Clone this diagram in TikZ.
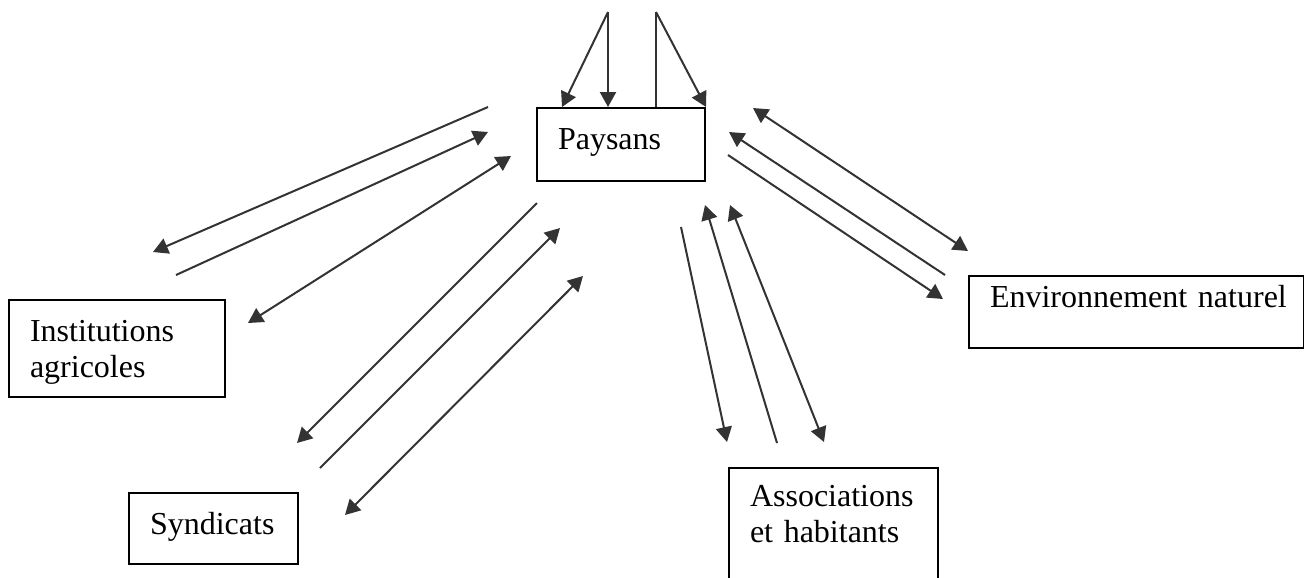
\documentclass[tikz,border=0pt]{standalone}
\usepackage{fontspec}
\setmainfont{Liberation Serif}
\usetikzlibrary{arrows.meta}

\newcommand{\pxu}{0.375pt}
\tikzset{
  box/.style={draw, line width=0.75pt, anchor=north west, align=left,
    inner xsep=21*\pxu, inner ysep=0pt, font=\fontsize{12}{13.8}\selectfont},
  link/.style={draw=black!80, line width=0.75pt},
}

\begin{document}
\begin{tikzpicture}[x=0.375pt, y=-0.375pt, >={Triangle[length=5.6pt,width=6pt]}]
\useasboundingbox (0,0) rectangle (1304,577);

% boxes
\node[box, text width=126*\pxu, text height=41*\pxu, text depth=32*\pxu] (paysans) at (536,107) {Paysans};
\node[box, text width=174*\pxu, text height=41*\pxu, text depth=56*\pxu] (institutions) at (8,299) {Institutions\\agricoles};
\node[box, text width=127*\pxu, text height=41*\pxu, text depth=30*\pxu] (syndicats) at (128,492) {Syndicats};
\node[box, text width=167*\pxu, text height=38*\pxu, text depth=100*\pxu] (associations) at (728,467) {Associations\\et habitants};
\node[box, text width=293*\pxu, text height=31*\pxu, text depth=41*\pxu] (environnement) at (968,275) {\mbox{Environnement naturel}};

% ends of the arrows
\coordinate (top1) at (608,12);
\coordinate (top2) at (656,12);
\coordinate (pay1) at (562,107);
\coordinate (pay2) at (608,107);
\coordinate (pay3) at (656,107);

\coordinate (ins1a) at (488,107);
\coordinate (ins1b) at (153,252);
\coordinate (ins2a) at (176,275);
\coordinate (ins2b) at (488,132);
\coordinate (ins3a) at (248,323);
\coordinate (ins3b) at (511,156);

\coordinate (syn1a) at (537,203);
\coordinate (syn1b) at (297,443);
\coordinate (syn2a) at (320,468);
\coordinate (syn2b) at (560,228);
\coordinate (syn3a) at (345,515);
\coordinate (syn3b) at (583,276);

\coordinate (ass1a) at (681,227);
\coordinate (ass1b) at (727,442);
\coordinate (ass2a) at (777,443);
\coordinate (ass2b) at (705,205);
\coordinate (ass3a) at (730,205);
\coordinate (ass3b) at (824,442);

\coordinate (env1a) at (753,108);
\coordinate (env1b) at (968,251);
\coordinate (env2a) at (945,275);
\coordinate (env2b) at (729,132);
\coordinate (env3a) at (728,155);
\coordinate (env3b) at (943,299);

% top
\draw[link,->] (top1) -- (pay1);
\draw[link,->] (top1) -- (pay2);
\draw[link] (top2) -- (pay3);
\draw[link,->] (top2) -- (paysans.north east);

% institutions agricoles
\draw[link,->] (ins1a) -- (ins1b);
\draw[link,->] (ins2a) -- (ins2b);
\draw[link,<->] (ins3a) -- (ins3b);

% syndicats
\draw[link,->] (syn1a) -- (syn1b);
\draw[link,->] (syn2a) -- (syn2b);
\draw[link,<->] (syn3a) -- (syn3b);

% associations et habitants
\draw[link,->] (ass1a) -- (ass1b);
\draw[link,->] (ass2a) -- (ass2b);
\draw[link,<->] (ass3a) -- (ass3b);

% environnement naturel
\draw[link,<->] (env1a) -- (env1b);
\draw[link,->] (env2a) -- (env2b);
\draw[link,->] (env3a) -- (env3b);
\end{tikzpicture}
\end{document}
